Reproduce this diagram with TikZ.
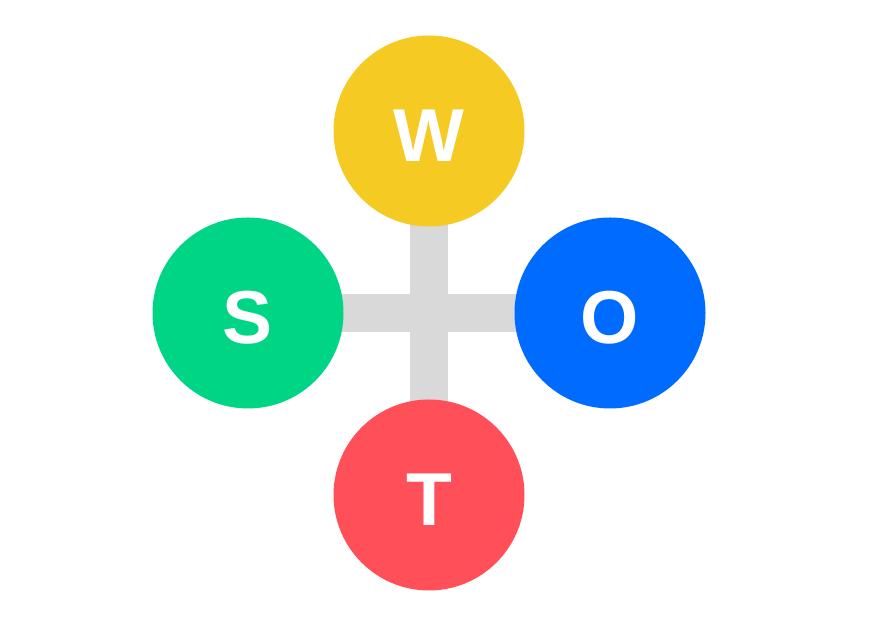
\documentclass[tikz,border=0pt]{standalone}
\usepackage{fontspec}
\setmainfont{Liberation Sans}
\definecolor{cyel}{HTML}{F4CA23}
\definecolor{cgrn}{HTML}{00D586}
\definecolor{cblu}{HTML}{006BFF}
\definecolor{cred}{HTML}{FF5059}
\definecolor{cgry}{HTML}{D9D9D9}
\begin{document}
\begin{tikzpicture}[x=1pt,y=1pt,
  ball/.style={circle,minimum size=191pt,inner sep=0pt},
  lbl/.style={anchor=base,text=white,font=\fontsize{75}{75}\selectfont\bfseries},
  bar/.style={draw=cgry,line width=38pt}]
\useasboundingbox (0,0) rectangle (873,620);
\coordinate (cW) at (429,489);
\coordinate (cS) at (248,307);
\coordinate (cO) at (610,307);
\coordinate (cT) at (429,125);
\node[ball] (W) at (cW) {};
\node[ball] (S) at (cS) {};
\node[ball] (O) at (cO) {};
\node[ball] (T) at (cT) {};
\draw[bar] (cS) -- (cO);
\draw[bar] (cW) -- (cT);
\fill[cyel] (cW) circle (95.5);
\fill[cgrn] (cS) circle (95.5);
\fill[cblu] (cO) circle (95.5);
\fill[cred] (cT) circle (95.5);
\node[lbl] (tW) at ([yshift=-31pt]cW) {W};
\node[lbl] (tS) at ([yshift=-31pt]cS) {S};
\node[lbl] (tO) at ([yshift=-31pt]cO) {O};
\node[lbl] (tT) at ([yshift=-31pt]cT) {T};
\end{tikzpicture}
\end{document}
